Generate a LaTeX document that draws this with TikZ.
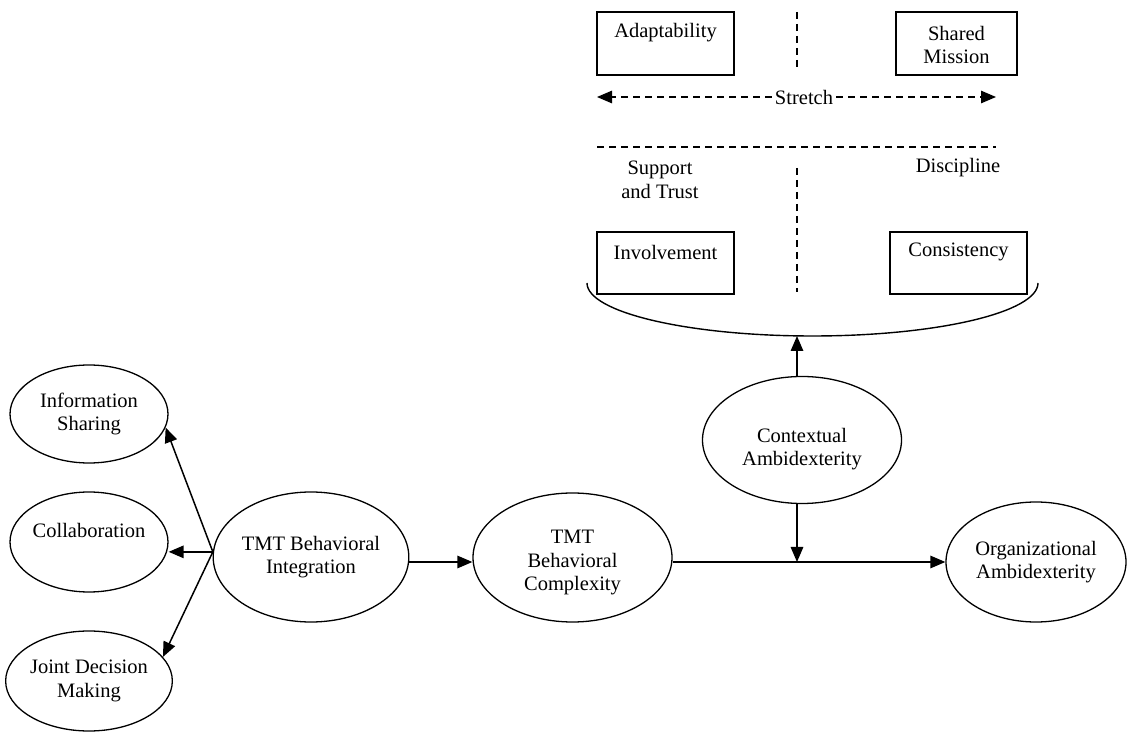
\documentclass[tikz,border=0pt]{standalone}
\usepackage{fontspec}
\setmainfont{Liberation Serif}
\usetikzlibrary{shapes.geometric,arrows.meta,calc}
\begin{document}
\begin{tikzpicture}[x=1pt,y=1pt,
  every node/.style={font=\fontsize{20.5}{23.5}\selectfont},
  oval/.style={draw, ellipse, inner sep=0pt, line width=1.3pt, align=center},
  sq/.style={draw, rectangle, inner sep=0pt, line width=1.3pt, align=center},
  tip/.style={-{Triangle[length=15pt,width=12.5pt]}},
  arr/.style={line width=1.5pt, tip},
  dsh/.style={line width=1.2pt, dash pattern=on 7pt off 5pt},
  lbl/.style={align=center, inner sep=0pt}]
\useasboundingbox (0,0) rectangle (1146,731);

% boxes
\node[sq, minimum width=137pt, minimum height=63pt] (adapt) at (665.5,687.5) {};
\node[lbl] (adaptT) at (665.5,698) {Adaptability};
\node[sq, minimum width=121pt, minimum height=63pt] (shared) at (956.5,687.5) {};
\node[lbl] (sharedT) at (956.5,686) {Shared\\Mission};
\node[sq, minimum width=137pt, minimum height=62pt] (invol) at (665.5,468) {};
\node[lbl] (involT) at (665.5,479) {Involvement};
\node[sq, minimum width=137pt, minimum height=62pt] (consis) at (958.5,468) {};
\node[lbl] (consisT) at (958.5,479) {Consistency};

% dashed separators
\coordinate (vt1) at (797,719); \coordinate (vt2) at (797,661);
\draw[dsh] (vt1) -- (vt2);
\coordinate (vb1) at (797,563); \coordinate (vb2) at (797,439);
\draw[dsh] (vb1) -- (vb2);
\coordinate (h1) at (597,584); \coordinate (h2) at (996,584);
\draw[dsh] (h1) -- (h2);

% stretch
\node[inner sep=3pt] (stretch) at (804,634) {Stretch};
\coordinate (sl) at (597,634); \coordinate (sr) at (996,634);
\draw[dsh, tip] (stretch.west) -- (sl);
\draw[dsh, tip] (stretch.east) -- (sr);

\node[lbl] (support) at (660,551) {Support\\and Trust};
\node[lbl] (disc) at (958,563) {Discipline};

% brace
\draw[line width=1.4pt] (587,448) arc[start angle=180,end angle=360,x radius=225.5,y radius=53];
\coordinate (bracebot) at (797,395);

% ellipses
\node[oval, minimum width=158pt, minimum height=98pt] (info) at (89,317) {Information\\Sharing};
\node[oval, minimum width=158pt, minimum height=100pt] (collab) at (89,189) {};
\node[lbl] (collabT) at (89,201) {Collaboration};
\node[oval, minimum width=160pt, minimum height=100pt] (jdm) at (89,50) {Joint Decision\\Making};
\node[oval, minimum width=188pt, minimum height=130pt] (tbi) at (311,174) {TMT Behavioral\\Integration};
\node[oval, minimum width=199pt, minimum height=129pt] (cplx) at (572.5,173.5) {};
\node[lbl] (cplxT) at (572.5,168) {TMT\\Behavioral\\Complexity};
\node[oval, minimum width=199pt, minimum height=127pt] (ctx) at (802,291) {};
\node[lbl] (ctxT) at (802,282) {Contextual\\Ambidexterity};
\node[oval, minimum width=180pt, minimum height=120pt] (org) at (1036,169) {Organizational\\Ambidexterity};

% connectors
\draw[arr] (tbi.177) -- (info.-10);
\draw[arr] (tbi.177) -- (tbi.177 -| collab.east);
\draw[arr] (tbi.177) -- (jdm.18);
\draw[arr] (tbi.east |- org.west) -- (cplx.west |- org.west);
\draw[arr] (cplx.east |- org.west) -- (org.west);
\coordinate (jn) at (bracebot |- org.west);
\draw[arr] (bracebot |- ctx.south) -- (jn);
\draw[arr] (bracebot |- ctx.north) -- (bracebot);
\end{tikzpicture}
\end{document}
